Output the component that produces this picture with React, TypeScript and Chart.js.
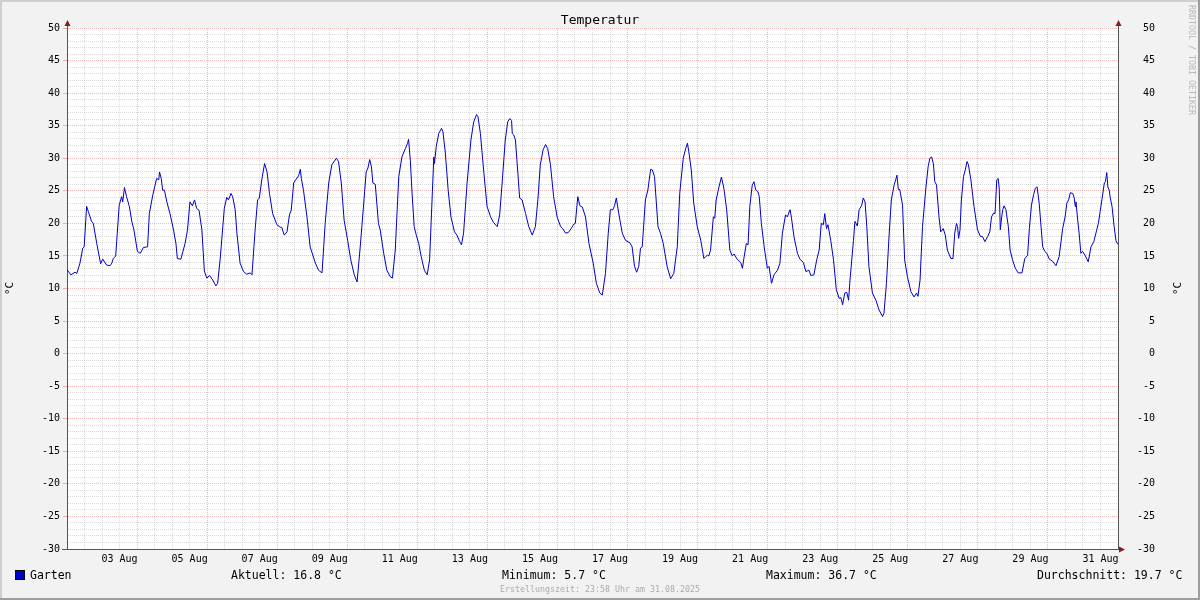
import React, { useEffect, useRef } from 'react';
import { Chart, registerables } from 'chart.js';

Chart.register(...registerables);

// ---- data (days since 02 Aug 00:00, °C) ----
const sampleDays = [
  0.00, 0.11, 0.23, 0.28, 0.37, 0.45, 0.49, 0.56, 0.61, 0.70, 0.75, 0.85, 0.96, 1.02, 1.13, 1.23, 1.28, 1.32, 1.39,
  1.49, 1.56, 1.59, 1.64, 1.70, 1.78, 1.85, 1.91, 2.01, 2.09, 2.18, 2.30, 2.35, 2.45, 2.56, 2.62, 2.64, 2.69, 2.73,
  2.78, 2.85, 2.94, 3.04, 3.11, 3.15, 3.25, 3.37, 3.44, 3.51, 3.58, 3.64, 3.70, 3.77, 3.85, 3.92, 3.99, 4.07, 4.16,
  4.25, 4.30, 4.37, 4.49, 4.56, 4.61, 4.68, 4.73, 4.80, 4.85, 4.94, 5.04, 5.13, 5.23, 5.28, 5.37, 5.44, 5.49, 5.56,
  5.64, 5.71, 5.78, 5.87, 5.99, 6.09, 6.13, 6.20, 6.28, 6.35, 6.40, 6.47, 6.53, 6.61, 6.66, 6.69, 6.75, 6.85, 6.94,
  7.09, 7.18, 7.28, 7.37, 7.47, 7.56, 7.69, 7.75, 7.83, 7.91, 8.01, 8.10, 8.20, 8.28, 8.37, 8.47, 8.54, 8.59, 8.64,
  8.69, 8.73, 8.80, 8.89, 8.94, 9.04, 9.13, 9.23, 9.29, 9.37, 9.47, 9.56, 9.66, 9.72, 9.75, 9.80, 9.85, 9.91, 9.97,
  10.04, 10.11, 10.20, 10.28, 10.35, 10.42, 10.47, 10.49, 10.54, 10.61, 10.69, 10.73, 10.80, 10.88, 10.96, 11.06,
  11.13, 11.21, 11.26, 11.32, 11.42, 11.53, 11.61, 11.69, 11.73, 11.80, 11.90, 11.99, 12.09, 12.18, 12.28, 12.35,
  12.42, 12.51, 12.58, 12.64, 12.69, 12.71, 12.75, 12.80, 12.87, 12.92, 12.99, 13.09, 13.18, 13.28, 13.37, 13.44,
  13.51, 13.59, 13.66, 13.72, 13.80, 13.89, 13.99, 14.09, 14.15, 14.23, 14.31, 14.39, 14.47, 14.51, 14.58, 14.64,
  14.71, 14.80, 14.90, 15.02, 15.11, 15.21, 15.28, 15.37, 15.45, 15.51, 15.58, 15.63, 15.68, 15.75, 15.85, 15.94,
  16.07, 16.13, 16.20, 16.26, 16.32, 16.37, 16.42, 16.51, 16.58, 16.66, 16.71, 16.77, 16.87, 16.94, 17.02, 17.13,
  17.23, 17.32, 17.42, 17.49, 17.59, 17.66, 17.71, 17.75, 17.82, 17.89, 17.99, 18.09, 18.18, 18.23, 18.28, 18.32,
  18.37, 18.45, 18.49, 18.53, 18.61, 18.68, 18.75, 18.83, 18.92, 18.99, 19.04, 19.13, 19.23, 19.28, 19.32, 19.39,
  19.44, 19.49, 19.56, 19.61, 19.66, 19.72, 19.76, 19.82, 19.90, 19.99, 20.04, 20.11, 20.18, 20.28, 20.35, 20.42,
  20.51, 20.56, 20.64, 20.68, 20.75, 20.85, 20.92, 21.02, 21.09, 21.18, 21.23, 21.32, 21.40, 21.47, 21.53, 21.59,
  21.63, 21.68, 21.72, 21.80, 21.88, 21.96, 22.04, 22.09, 22.14, 22.20, 22.26, 22.31, 22.35, 22.45, 22.49, 22.56,
  22.61, 22.68, 22.73, 22.78, 22.83, 22.89, 22.99, 23.09, 23.18, 23.28, 23.32, 23.39, 23.47, 23.53, 23.61, 23.66,
  23.69, 23.73, 23.77, 23.85, 23.91, 23.99, 24.09, 24.18, 24.25, 24.29, 24.35, 24.42, 24.51, 24.58, 24.63, 24.68,
  24.73, 24.77, 24.82, 24.89, 24.94, 25.01, 25.07, 25.13, 25.23, 25.29, 25.34, 25.39, 25.42, 25.45, 25.49, 25.53,
  25.59, 25.64, 25.69, 25.73, 25.80, 25.89, 25.99, 26.07, 26.13, 26.20, 26.28, 26.34, 26.39, 26.45, 26.49, 26.54,
  26.58, 26.61, 26.64, 26.68, 26.71, 26.75, 26.80, 26.87, 26.92, 26.99, 27.07, 27.15, 27.26, 27.34, 27.42, 27.47,
  27.53, 27.59, 27.64, 27.69, 27.75, 27.85, 27.91, 27.97, 28.04, 28.13, 28.23, 28.32, 28.42, 28.49, 28.54, 28.59,
  28.64, 28.71, 28.75, 28.78, 28.80, 28.85, 28.89, 28.94, 28.99, 29.06, 29.15, 29.23, 29.31, 29.37, 29.44, 29.49,
  29.54, 29.61, 29.64, 29.68, 29.71, 29.75, 29.78, 29.83, 29.89, 29.94, 29.99,
];

const gartenTemps = [
  12.9, 12.1, 12.5, 12.3, 13.9, 16.2, 16.4, 22.6, 21.8, 20.3, 20.0, 16.9, 13.8, 14.5, 13.6, 13.5, 13.9, 14.6, 15.0,
  22.8, 24.1, 23.3, 25.5, 24.1, 22.6, 20.3, 19.0, 15.7, 15.4, 16.3, 16.4, 21.5, 24.4, 26.9, 26.7, 27.9, 26.9, 25.1,
  25.1, 23.3, 21.5, 19.0, 16.9, 14.6, 14.5, 16.9, 19.0, 23.3, 22.7, 23.6, 22.3, 22.0, 19.0, 12.7, 11.6, 12.0, 11.3,
  10.4, 10.8, 14.4, 22.3, 24.0, 23.6, 24.6, 24.1, 22.1, 18.5, 13.9, 12.6, 12.2, 12.4, 12.1, 19.0, 23.6, 23.9, 26.7,
  29.2, 27.9, 24.6, 21.5, 19.8, 19.4, 19.4, 18.2, 18.7, 21.3, 22.0, 26.2, 26.7, 27.3, 28.3, 26.9, 25.1, 21.0, 16.4,
  13.9, 12.8, 12.4, 20.0, 26.2, 29.0, 30.0, 29.5, 26.2, 20.5, 17.4, 14.4, 12.1, 11.0, 16.4, 23.1, 27.9, 28.5, 29.8,
  28.7, 26.2, 26.0, 20.0, 19.0, 15.4, 12.8, 11.8, 11.6, 15.9, 27.2, 30.2, 31.5, 32.3, 32.9, 29.7, 24.6, 19.5, 18.2,
  16.9, 14.9, 12.8, 12.1, 14.4, 23.6, 30.2, 29.2, 31.8, 33.8, 34.6, 34.1, 30.8, 25.1, 21.0, 18.7,
  18.2, 17.2, 16.7, 18.5, 26.2, 32.8, 35.6, 36.7, 36.4, 33.8, 27.7, 22.6, 21.0, 20.1, 19.5, 21.3,
  26.2, 32.8, 35.6, 36.1, 35.8, 33.8, 33.6, 32.8, 27.7, 23.9, 23.6, 21.5, 19.5, 18.2, 19.5, 23.6,
  29.0, 31.3, 32.1, 31.5, 29.0, 24.1, 21.0, 19.5, 19.2, 18.5, 18.6, 19.2, 19.9, 20.0, 24.1, 22.7,
  22.5, 21.0, 16.9, 13.9, 10.8, 9.3, 9.0, 12.3, 18.5, 22.1, 22.1, 22.7, 23.9, 21.5, 18.5, 17.4,
  17.0, 16.4, 13.4, 12.5, 13.4, 16.2, 16.4, 23.6, 25.1, 28.3, 28.2, 27.2, 19.5, 18.5, 16.9, 13.4,
  11.5, 12.3, 16.4, 24.6, 30.0, 31.5, 32.3, 31.0, 28.2, 23.1, 19.5, 17.4, 14.6, 14.9, 15.1, 15.0,
  15.9, 21.0, 20.8, 23.6, 25.6, 27.1, 25.4, 22.1, 15.9, 15.0, 15.3, 14.5, 14.0, 13.1, 14.6, 16.9,
  16.7, 22.6, 25.9, 26.4, 25.1, 24.9, 24.1, 20.0, 16.4, 13.1, 13.4, 10.8, 12.1, 12.8, 13.9, 18.5,
  21.3, 21.0, 22.1, 20.8, 18.0, 15.4, 14.5, 14.0, 12.6, 12.8, 12.0, 12.1, 14.4, 15.9, 20.0, 19.8,
  21.5, 19.2, 19.8, 17.4, 14.4, 9.8, 8.5, 8.6, 7.5, 9.3, 9.4, 8.2, 11.3, 17.4, 20.3, 19.6,
  22.1, 22.7, 23.9, 23.3, 19.5, 13.4, 9.3, 8.2, 6.7, 5.7, 6.2, 10.8, 18.5, 23.6, 25.9, 26.8,
  27.4, 25.2, 25.2, 22.8, 14.4, 11.8, 9.5, 8.7, 9.3, 8.8, 11.3, 19.5, 25.1, 28.7, 30.0, 30.2,
  29.2, 26.4, 25.9, 21.0, 18.7, 19.2, 18.2, 15.9, 14.6, 14.6, 18.5, 20.0, 19.5, 17.7, 19.0, 23.6,
  27.2, 28.2, 29.5, 29.0, 26.7, 22.6, 19.0, 18.0, 18.0, 17.2, 18.0, 18.7, 21.0, 21.6, 21.5, 26.7,
  26.9, 25.4, 19.0, 21.0, 22.1, 22.7, 22.1, 19.5, 15.9, 14.4, 13.1, 12.4, 12.4, 14.6, 15.1, 19.2,
  22.8, 24.4, 25.4, 25.6, 23.1, 16.4, 15.7, 15.4, 14.5, 14.2, 13.5, 14.9, 19.2, 21.0, 23.1, 23.6,
  24.7, 24.6, 23.9, 22.6, 23.3, 20.5, 18.5, 15.4, 15.7, 15.1, 14.1, 16.4, 17.2, 18.5, 20.0, 21.8,
  23.6, 26.2, 26.4, 27.8, 25.6, 25.1, 23.9, 22.6, 19.5, 17.4, 16.8,
];

const dateLabels = [
  '03 Aug', '05 Aug', '07 Aug', '09 Aug', '11 Aug', '13 Aug', '15 Aug', '17 Aug',
  '19 Aug', '21 Aug', '23 Aug', '25 Aug', '27 Aug', '29 Aug', '31 Aug',
];
const dateLabelDays = [1.5, 3.5, 5.5, 7.5, 9.5, 11.5, 13.5, 15.5, 17.5, 19.5, 21.5, 23.5, 25.5, 27.5, 29.5];

const chartTitle = 'Temperatur';
const unitLabel = '°C';
const seriesName = 'Garten';
const statTexts = ['Aktuell: 16.8 °C', 'Minimum: 5.7 °C', 'Maximum: 36.7 °C', 'Durchschnitt: 19.7 °C'];
const footerText = 'Erstellungszeit: 23:58 Uhr am 31.08.2025';
const watermarkText = 'RRDTOOL / TOBI OETIKER';

const MONO = "'DejaVu Sans Mono', monospace";
const LINE_BLUE = '#0000CC';
const MINOR_GRID = 'rgba(143,143,143,0.32)';
const MAJOR_GRID = 'rgba(222,79,79,0.4)';
const AXIS_COLOR = '#555555';
const ARROW_COLOR = '#801F1F';

function xLabel(v: number): string {
  const i = dateLabelDays.findIndex((d) => Math.abs(d - v) < 1e-6);
  return i >= 0 ? dateLabels[i] : '';
}
function yLabel(v: number): string {
  return Math.abs(v % 5) < 1e-6 ? String(v) : '';
}

const rrdPlugin = {
  id: 'rrdDecor',
  beforeDraw(chart: any) {
    const { ctx, chartArea: a, width, height } = chart;
    ctx.save();
    ctx.fillStyle = '#F2F2F2';
    ctx.fillRect(0, 0, width, height);
    ctx.fillStyle = '#FFFFFF';
    ctx.fillRect(a.left, a.top, a.right - a.left, a.bottom - a.top);
    // 3D frame
    ctx.fillStyle = '#CFCFCF';
    ctx.fillRect(0, 0, width, 2);
    ctx.fillRect(0, 0, 2, height);
    ctx.fillStyle = '#9E9E9E';
    ctx.fillRect(0, height - 2, width, 2);
    ctx.fillRect(width - 2, 0, 2, height);
    ctx.restore();
  },
  afterDraw(chart: any) {
    const { ctx, chartArea: a, width } = chart;
    ctx.save();
    // axis extensions
    ctx.strokeStyle = AXIS_COLOR;
    ctx.lineWidth = 1;
    ctx.beginPath();
    ctx.moveTo(a.left + 0.5, a.top + 0.5);
    ctx.lineTo(a.left + 0.5, a.top - 3);
    ctx.moveTo(a.right + 0.5, a.top + 0.5);
    ctx.lineTo(a.right + 0.5, a.top - 3);
    ctx.moveTo(a.left - 5, a.bottom + 0.5);
    ctx.lineTo(a.left, a.bottom + 0.5);
    ctx.stroke();
    // arrows
    ctx.fillStyle = ARROW_COLOR;
    const upArrow = (x: number) => {
      ctx.beginPath();
      ctx.moveTo(x - 3, a.top - 2);
      ctx.lineTo(x + 3, a.top - 2);
      ctx.lineTo(x, a.top - 8);
      ctx.closePath();
      ctx.fill();
    };
    upArrow(a.left + 0.5);
    upArrow(a.right + 0.5);
    ctx.beginPath();
    ctx.moveTo(a.right + 1, a.bottom + 0.5 - 3);
    ctx.lineTo(a.right + 1, a.bottom + 0.5 + 3);
    ctx.lineTo(a.right + 7, a.bottom + 0.5);
    ctx.closePath();
    ctx.fill();

    // title
    ctx.fillStyle = '#000';
    ctx.font = `13px ${MONO}`;
    ctx.textAlign = 'center';
    ctx.textBaseline = 'alphabetic';
    ctx.fillText(chartTitle, width / 2, 24);

    // unit labels (rotated)
    const midY = (a.top + a.bottom) / 2;
    ctx.font = `11px ${MONO}`;
    ctx.textBaseline = 'middle';
    [10, 1178].forEach((x) => {
      ctx.save();
      ctx.translate(x, midY);
      ctx.rotate(-Math.PI / 2);
      ctx.fillText(unitLabel, 0, 0);
      ctx.restore();
    });

    // watermark
    ctx.save();
    ctx.fillStyle = '#B8B8B8';
    ctx.font = `8.3px ${MONO}`;
    ctx.translate(1191, 5);
    ctx.rotate(Math.PI / 2);
    ctx.textAlign = 'left';
    ctx.textBaseline = 'middle';
    ctx.fillText(watermarkText, 0, 0);
    ctx.restore();

    // legend
    ctx.fillStyle = LINE_BLUE;
    ctx.fillRect(15, 570, 10, 10);
    ctx.strokeStyle = '#000';
    ctx.strokeRect(15.5, 570.5, 9, 9);
    ctx.fillStyle = '#000';
    ctx.font = `11.5px ${MONO}`;
    ctx.textAlign = 'left';
    ctx.textBaseline = 'alphabetic';
    ctx.fillText(seriesName, 30, 579);
    const statX = [231, 502, 766, 1037];
    statTexts.forEach((t, i) => ctx.fillText(t, statX[i], 579));

    // footer
    ctx.fillStyle = '#ABABAB';
    ctx.font = `8.3px ${MONO}`;
    ctx.textAlign = 'center';
    ctx.fillText(footerText, width / 2, 592);
    ctx.restore();
  },
};

export default function App() {
  const canvasRef = useRef<HTMLCanvasElement | null>(null);

  useEffect(() => {
    const canvas = canvasRef.current;
    if (!canvas) return;
    const points = sampleDays.map((d, i) => ({ x: d, y: gartenTemps[i] }));
    const tickFont = { family: MONO, size: 10 };

    const chart = new Chart(canvas, {
      type: 'line',
      data: {
        datasets: [
          {
            label: seriesName,
            data: points,
            borderColor: LINE_BLUE,
            borderWidth: 1,
            pointRadius: 0,
            tension: 0,
            fill: false,
            xAxisID: 'x',
            yAxisID: 'y',
          },
        ],
      },
      options: {
        responsive: false,
        animation: false,
        devicePixelRatio: 1,
        events: [],
        layout: { padding: { top: 28, left: 0, right: 45, bottom: 0 } },
        plugins: {
          legend: { display: false },
          title: { display: false },
          tooltip: { enabled: false },
        },
        scales: {
          x: {
            type: 'linear',
            position: 'bottom',
            min: 0,
            max: 30,
            afterFit: (s: any) => {
              s.height = 51;
            },
            ticks: {
              stepSize: 0.5,
              autoSkip: false,
              maxRotation: 0,
              minRotation: 0,
              padding: 4,
              color: '#000',
              font: tickFont,
              callback: (v: any) => xLabel(Number(v)),
            },
            grid: {
              drawTicks: false,
              lineWidth: 1,
              color: (c: any) =>
                c.tick && Math.abs(c.tick.value % 2) < 1e-6 ? MAJOR_GRID : MINOR_GRID,
            },
            border: { display: true, color: AXIS_COLOR, width: 1, dash: [1, 1] },
          },
          y: {
            type: 'linear',
            position: 'left',
            min: -30,
            max: 50,
            afterFit: (s: any) => {
              s.width = 67;
            },
            ticks: {
              stepSize: 1,
              autoSkip: false,
              padding: 3,
              color: '#000',
              font: tickFont,
              callback: (v: any) => yLabel(Number(v)),
            },
            grid: {
              drawTicks: true,
              tickLength: 4,
              lineWidth: 1,
              color: (c: any) =>
                c.tick && Math.abs(c.tick.value % 5) < 1e-6 ? MAJOR_GRID : MINOR_GRID,
              tickColor: (c: any) =>
                c.tick && Math.abs(c.tick.value % 5) < 1e-6 ? MAJOR_GRID : 'rgba(0,0,0,0)',
            },
            border: { display: true, color: AXIS_COLOR, width: 1, dash: [1, 1] },
          },
          y2: {
            type: 'linear',
            position: 'right',
            min: -30,
            max: 50,
            afterFit: (s: any) => {
              s.width = 37;
            },
            ticks: {
              stepSize: 1,
              autoSkip: false,
              padding: 4,
              crossAlign: 'far',
              color: '#000',
              font: tickFont,
              callback: (v: any) => yLabel(Number(v)),
            },
            grid: { drawOnChartArea: false, drawTicks: false },
            border: { display: true, color: AXIS_COLOR, width: 1 },
          },
        },
      } as any,
      plugins: [rrdPlugin],
    });
    return () => chart.destroy();
  }, []);

  return (
    <div style={{ position: 'fixed', left: 0, top: 0, width: 1200, height: 600 }}>
      <canvas ref={canvasRef} width={1200} height={600} style={{ width: 1200, height: 600 }} />
    </div>
  );
}
